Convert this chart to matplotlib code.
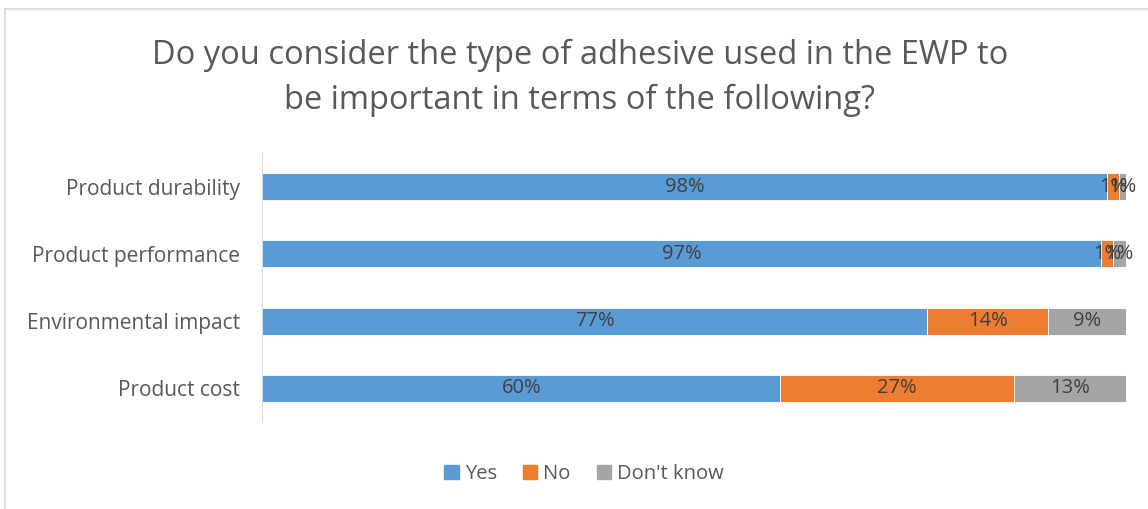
import matplotlib.pyplot as plt
from matplotlib.lines import Line2D
import numpy as np

plt.rcParams['font.family'] = ['Open Sans', 'DejaVu Sans']

categories = ["Product durability", "Product performance", "Environmental impact", "Product cost"]
yes = [97.8, 97.1, 77, 60]
no = [1.4, 1.45, 14, 27]
dont_know = [0.8, 1.45, 9, 13]
series_names = ["Yes", "No", "Don't know"]
colors = ["#5B9BD5", "#ED7D31", "#A5A5A5"]

fig = plt.figure(figsize=(11.48, 5.09), dpi=100)
ax = fig.add_axes([262/1148, 1-422/509, (1126-262)/1148, (422-153)/509])

y = np.arange(len(categories))
left = np.zeros(len(categories))
for vals, name, c in zip([yes, no, dont_know], series_names, colors):
    vals = np.array(vals, dtype=float)
    ax.barh(y, vals, left=left, height=0.4, color=c, label=name,
            edgecolor='white', linewidth=0.6)
    for yi, l, v in zip(y, left, vals):
        ax.text(l + v/2, yi, f"{round(v):.0f}%", ha='center', va='center',
                fontsize=14.5, color='#404040')
    left += vals

ax.set_xlim(0, 100)
ax.set_ylim(len(categories)-0.5, -0.5)
ax.set_yticks(y)
ax.set_yticklabels(categories, fontsize=15, color='#595959')
ax.set_xticks([])
ax.tick_params(axis='y', length=0, pad=16)
for s in ['top', 'right', 'bottom']:
    ax.spines[s].set_visible(False)
ax.spines['left'].set_color('#D9D9D9')

fig.text(580/1148, 1-78/509,
         "Do you consider the type of adhesive used in the EWP to\nbe important in terms of the following?",
         ha='center', va='center', fontsize=23.5, color='#595959', linespacing=1.45)

handles = [plt.Rectangle((0, 0), 1, 1, color=c) for c in colors]
fig.legend(handles, series_names, loc='center', bbox_to_anchor=(584/1148, 1-474/509),
           ncol=3, frameon=False, fontsize=14.5, handlelength=0.7, handleheight=0.7,
           handletextpad=0.3, columnspacing=1.3, labelcolor='#595959')

# chart border
fig.add_artist(Line2D([5/1148, 5/1148], [0, 1-9/509], color='#D9D9D9', lw=1.2))
fig.add_artist(Line2D([5/1148, 1], [1-9/509, 1-9/509], color='#D9D9D9', lw=1.2))

fig.savefig('out.png', dpi=100)
